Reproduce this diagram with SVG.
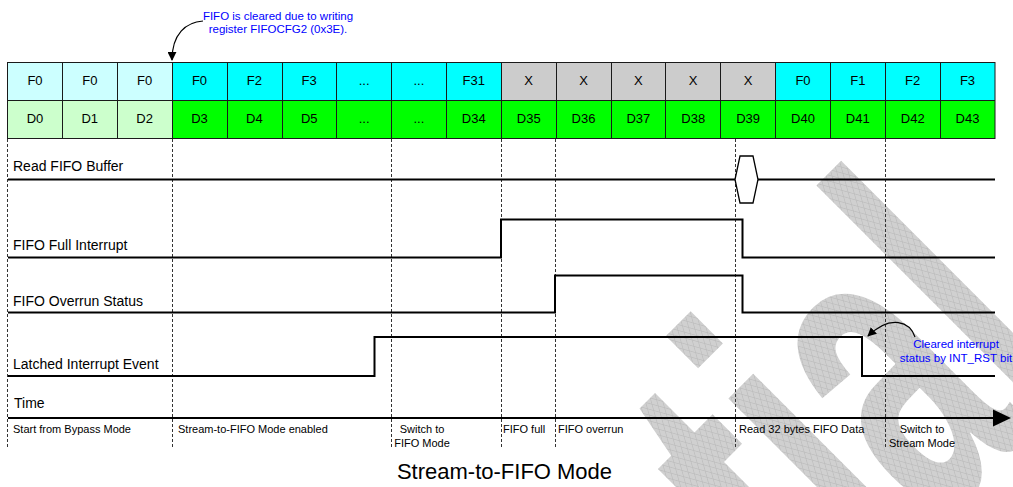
<svg xmlns="http://www.w3.org/2000/svg" width="1013" height="487" viewBox="0 0 1013 487">
<defs>
<pattern id="hatch" width="8" height="8" patternUnits="userSpaceOnUse" patternTransform="rotate(45)">
<rect width="8" height="8" fill="#d0d0d0"/>
<path d="M0,0.5H8M0.5,0V8" stroke="#bdbdbd" stroke-width="1"/>
</pattern>
<marker id="ah" viewBox="0 0 10 10" refX="9" refY="5" markerWidth="9" markerHeight="9" markerUnits="userSpaceOnUse" orient="auto">
<path d="M0,0L10,5L0,10z" fill="#000"/>
</marker>
</defs>
<style>
text{font-family:"Liberation Sans",Arial,sans-serif;fill:#000}
.cell{font-size:13px;text-anchor:middle}
.lbl{font-size:14px}
.sm{font-size:11px}
.smc{font-size:11px;text-anchor:middle}
.note{font-size:11.5px;fill:#0000ff;text-anchor:middle}
.grid{stroke:#1a1a1a;stroke-width:1;fill:none}
.dash{stroke:#333;stroke-width:1;stroke-dasharray:3 2;fill:none}
.sig{stroke:#000;stroke-width:2;fill:none}
.lc{fill:#ccffff}.c{fill:#00ffff}.x{fill:#cccccc}.lg{fill:#ccffcc}.g{fill:#00ff00}
</style>
<rect width="1013" height="487" fill="#fff"/>
<g id="watermark">
<text transform="translate(1084.5,378.6) rotate(-45) scale(0.567,1)" text-anchor="end" style="font-size:450px;font-weight:bold;fill:url(#hatch)">Confidential</text>
</g>
<g id="fifo-table">
<rect class="lc" x="7.5" y="62" width="164.6" height="38"/>
<rect class="c" x="172.1" y="62" width="329.1" height="38"/>
<rect class="x" x="501.2" y="62" width="274.3" height="38"/>
<rect class="c" x="775.5" y="62" width="219.5" height="38"/>
<rect class="lg" x="7.5" y="100" width="164.6" height="38"/>
<rect class="g" x="172.1" y="100" width="822.9" height="38"/>
<path class="grid" d="M7.5,62.5H995M7.5,100.5H995M7.5,138.5H995M7.5,62V139M62.5,62V139M117.5,62V139M172.5,62V139M227.5,62V139M282.5,62V139M336.5,62V139M391.5,62V139M446.5,62V139M501.5,62V139M556.5,62V139M611.5,62V139M665.5,62V139M720.5,62V139M775.5,62V139M830.5,62V139M885.5,62V139M940.5,62V139M995,62V139"/>
<g class="cell">
<text x="35" y="85">F0</text><text x="89.8" y="85">F0</text><text x="144.6" y="85">F0</text><text x="199.5" y="85">F0</text><text x="254.4" y="85">F2</text><text x="309.2" y="85">F3</text><text x="364.1" y="85">...</text><text x="418.9" y="85">...</text><text x="473.8" y="85">F31</text><text x="528.7" y="85">X</text><text x="583.5" y="85">X</text><text x="638.4" y="85">X</text><text x="693.2" y="85">X</text><text x="748.1" y="85">X</text><text x="803" y="85">F0</text><text x="857.8" y="85">F1</text><text x="912.7" y="85">F2</text><text x="967.5" y="85">F3</text>
<text x="35" y="123">D0</text><text x="89.8" y="123">D1</text><text x="144.6" y="123">D2</text><text x="199.5" y="123">D3</text><text x="254.4" y="123">D4</text><text x="309.2" y="123">D5</text><text x="364.1" y="123">...</text><text x="418.9" y="123">...</text><text x="473.8" y="123">D34</text><text x="528.7" y="123">D35</text><text x="583.5" y="123">D36</text><text x="638.4" y="123">D37</text><text x="693.2" y="123">D38</text><text x="748.1" y="123">D39</text><text x="803" y="123">D40</text><text x="857.8" y="123">D41</text><text x="912.7" y="123">D42</text><text x="967.5" y="123">D43</text>
</g>
</g>
<g id="time-markers">
<path class="dash" d="M7.5,139V448M172.5,139V448M391.5,139V448M501.5,139V448M555.5,139V448M735.5,139V448M885.5,139V448"/>
</g>
<g id="signal-read">
<text class="lbl" x="13" y="171">Read FIFO Buffer</text>
<path class="sig" d="M8,179.5H735M758,179.5H995"/>
<path d="M735,179.5L740,156L753,156L758,179.5L753,203L740,203Z" fill="#fff" stroke="#000" stroke-width="1.3"/>
</g>
<g id="signal-full">
<text class="lbl" x="13" y="250">FIFO Full Interrupt</text>
<path class="sig" d="M8,257.5H501V219.5H742.5V257.5H995"/>
</g>
<g id="signal-overrun">
<text class="lbl" x="13" y="305.5">FIFO Overrun Status</text>
<path class="sig" d="M8,312.5H555V275.5H742.5V312.5H995"/>
</g>
<g id="signal-latched">
<text class="lbl" x="13" y="369">Latched Interrupt Event</text>
<path class="sig" d="M8,376H374.5V337H862V376H995"/>
</g>
<g id="time-axis">
<text class="lbl" x="14" y="408">Time</text>
<path class="sig" d="M8,418H995"/>
<path d="M993,409.5L1011,418L993,426.5Z" fill="#000"/>
<text class="sm" x="13" y="433">Start from Bypass Mode</text>
<text class="sm" x="178" y="433">Stream-to-FIFO Mode enabled</text>
<text class="smc" x="422" y="433">Switch to</text>
<text class="smc" x="422" y="447">FIFO Mode</text>
<text class="sm" x="503" y="433">FIFO full</text>
<text class="sm" x="558" y="433">FIFO overrun</text>
<text class="sm" x="739" y="433">Read 32 bytes FIFO Data</text>
<text class="smc" x="922" y="433">Switch to</text>
<text class="smc" x="922" y="447">Stream Mode</text>
</g>
<g id="note-clear">
<text class="note" x="278" y="20">FIFO is cleared due to writing</text>
<text class="note" x="278" y="33">register FIFOCFG2 (0x3E).</text>
</g>
<g id="note-int-rst">
<text class="note" x="956" y="348">Cleared interrupt</text>
<text class="note" x="956" y="362">status by INT_RST bit</text>
</g>
<g id="connectors" fill="none" stroke="#000" stroke-width="1.2">
<path d="M203,21C186,22 172,34 172,60" marker-end="url(#ah)"/>
<path d="M915,337C910,322 891,314 868,336" marker-end="url(#ah)"/>
</g>
<g id="title">
<text x="504.5" y="479" style="font-size:22px;text-anchor:middle">Stream-to-FIFO Mode</text>
</g>
</svg>
